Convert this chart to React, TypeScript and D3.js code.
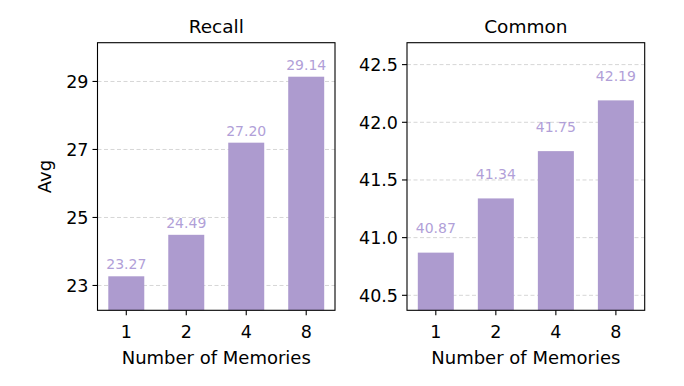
import React from "react";
import * as d3 from "d3";

const memories = ["1", "2", "4", "8"];
const recallAvg = [23.27, 24.49, 27.2, 29.14];
const commonAvg = [40.87, 41.34, 41.75, 42.19];
const recallTicks = [23, 25, 27, 29];
const commonTicks = [40.5, 41.0, 41.5, 42.0, 42.5];

const W = 684;
const H = 386;
const top = 42.7;
const bottom = 310.3;
const FONT = "DejaVu Sans, sans-serif";
const BAR = "#ad9bcf";
const LABEL = "#b19fd8";

type PanelProps = {
  title: string;
  values: number[];
  ticks: number[];
  pad: number;
  labelOffset: number;
  left: number;
  right: number;
  tickFmt: (v: number) => string;
  yLabel?: string;
};

const Panel = ({ title, values, ticks, pad, labelOffset, left, right, tickFmt, yLabel }: PanelProps) => {
  const x = d3
    .scaleBand<string>()
    .domain(memories)
    .range([left, right])
    .paddingInner(0.4)
    .paddingOuter(0.18);
  const y = d3
    .scaleLinear()
    .domain([d3.min(values)! - pad, d3.max(values)! + pad])
    .range([bottom, top]);
  const cx = (left + right) / 2;

  return (
    <g fontFamily={FONT}>
      {/* grid */}
      {ticks.map((t) => (
        <line
          key={"g" + t}
          x1={left}
          x2={right}
          y1={y(t)}
          y2={y(t)}
          stroke="#d6d6d6"
          strokeWidth={1}
          strokeDasharray="4,2.5"
        />
      ))}
      {/* bars */}
      {values.map((v, i) => (
        <rect
          key={"b" + i}
          x={x(memories[i])}
          y={y(v)}
          width={x.bandwidth()}
          height={bottom - y(v)}
          fill={BAR}
        />
      ))}
      {/* value labels */}
      {values.map((v, i) => (
        <text
          key={"l" + i}
          x={x(memories[i])! + x.bandwidth() / 2}
          y={y(v + labelOffset)}
          textAnchor="middle"
          fontSize={14}
          fill={LABEL}
        >
          {v.toFixed(2)}
        </text>
      ))}
      {/* frame */}
      <rect x={left} y={top} width={right - left} height={bottom - top} fill="none" stroke="#000" strokeWidth={1.1} />
      {/* y ticks */}
      {ticks.map((t) => (
        <g key={"t" + t}>
          <line x1={left - 5} x2={left} y1={y(t)} y2={y(t)} stroke="#000" strokeWidth={1.1} />
          <text x={left - 9} y={y(t)} dy="0.36em" textAnchor="end" fontSize={17.5} fill="#000">
            {tickFmt(t)}
          </text>
        </g>
      ))}
      {/* x ticks */}
      {memories.map((m) => {
        const px = x(m)! + x.bandwidth() / 2;
        return (
          <g key={"x" + m}>
            <line x1={px} x2={px} y1={bottom} y2={bottom + 5} stroke="#000" strokeWidth={1.1} />
            <text x={px} y={337.5} textAnchor="middle" fontSize={17.5} fill="#000">
              {m}
            </text>
          </g>
        );
      })}
      <text x={cx} y={363.5} textAnchor="middle" fontSize={18} fill="#000">
        Number of Memories
      </text>
      <text x={cx} y={33.3} textAnchor="middle" fontSize={18.5} fill="#000">
        {title}
      </text>
      {yLabel && (
        <text
          transform={`translate(50.7,${(top + bottom) / 2}) rotate(-90)`}
          textAnchor="middle"
          fontSize={18}
          fill="#000"
        >
          {yLabel}
        </text>
      )}
    </g>
  );
};

export default function App() {
  return (
    <svg
      width={W}
      height={H}
      style={{ position: "absolute", left: 0, top: 0, background: "#fff" }}
    >
      <rect width={W} height={H} fill="#fff" />
      <Panel
        title="Recall"
        values={recallAvg}
        ticks={recallTicks}
        pad={1}
        labelOffset={0.2}
        left={97.5}
        right={335}
        tickFmt={(v) => String(v)}
        yLabel="Avg"
      />
      <Panel
        title="Common"
        values={commonAvg}
        ticks={commonTicks}
        pad={0.5}
        labelOffset={0.17}
        left={407}
        right={644.7}
        tickFmt={(v) => v.toFixed(1)}
      />
    </svg>
  );
}
